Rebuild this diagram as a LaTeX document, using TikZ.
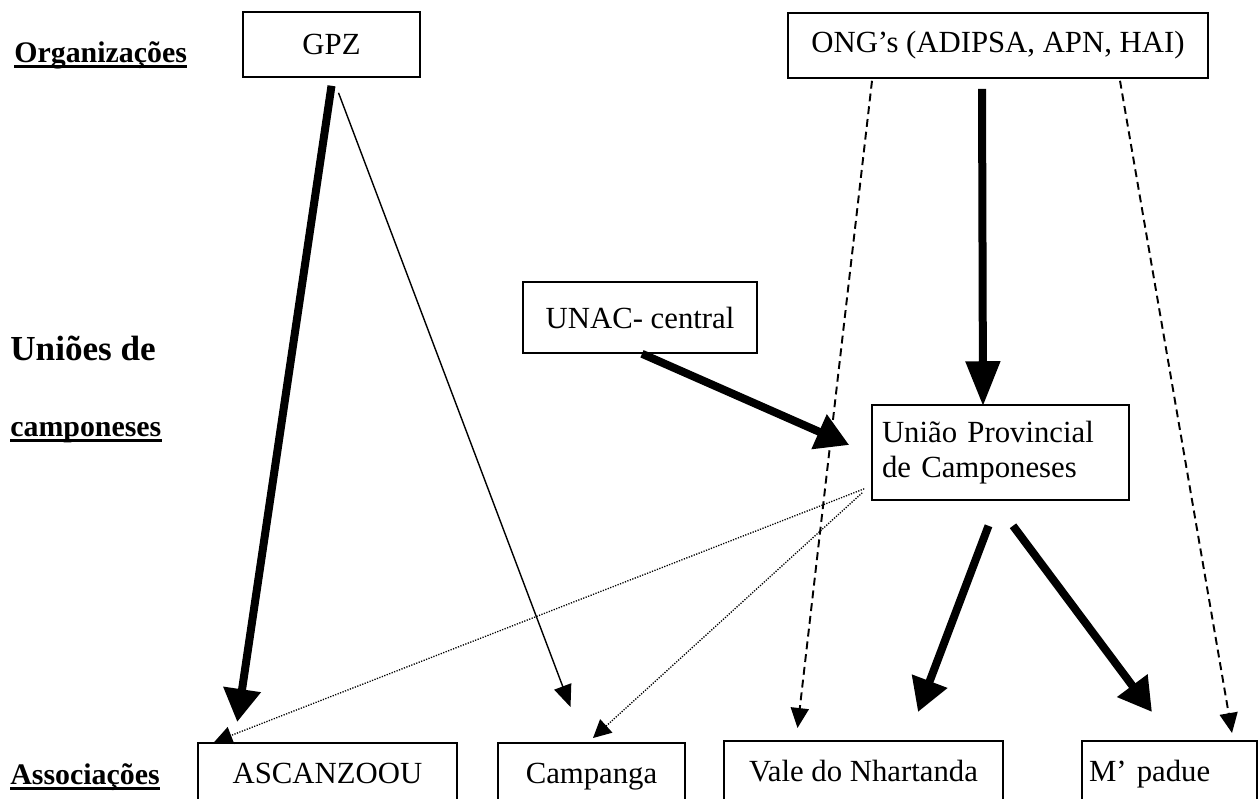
\documentclass[tikz,border=0pt]{standalone}
\usepackage{fontspec}
\setmainfont{Liberation Serif}
\usetikzlibrary{arrows.meta,calc}

\tikzset{
  box/.style={draw, line width=0.9pt, inner sep=0pt, align=center, font=\fontsize{17.5}{20}\selectfont},
  assoc/.style={box, anchor=north, text height=0.74cm, text depth=1.5cm, inner ysep=0.08cm},
  lbl/.style={inner sep=0pt, anchor=base west, font=\bfseries\fontsize{17}{20}\selectfont},
  uline/.style={line width=1.3pt},
  strong/.style={line width=0.16cm, -{Triangle[length=0.66cm,width=0.72cm]}},
  weak/.style={line width=0.8pt, -{Triangle[length=0.44cm,width=0.36cm]}},
  dashline/.style={line width=1.1pt, dash pattern=on 4.5pt off 2.8pt, -{Triangle[length=0.4cm,width=0.36cm]}},
  dotline/.style={line width=0.75pt, dash pattern=on 0.7pt off 0.8pt, -{Triangle[length=0.36cm,width=0.36cm]}}
}

\begin{document}
\frenchspacing
\begin{tikzpicture}[x=0.02cm, y=-0.02cm]
  \useasboundingbox (0,0) rectangle (1260,798);

  % row labels
  \node[lbl] (org) at (14,62) {Organizações};
  \node[lbl, font=\bfseries\fontsize{20}{24}\selectfont] (uni) at (10,360) {Uniões de};
  \node[lbl] (camp-lbl) at (10,436) {camponeses};
  \node[lbl] (ass) at (10,784) {Associações};
  \foreach \l in {org,camp-lbl,ass}{\draw[uline] ([yshift=-2.5pt]\l.base west) -- ([yshift=-2.5pt]\l.base east);}

  % organisations
  \node[box, minimum width=3.54cm, minimum height=1.3cm] (gpz) at (331.5,44.5) {GPZ};
  \node[box, minimum width=8.4cm, minimum height=1.3cm] (ong) at (998,45.5) {ONG’s (ADIPSA, APN, HAI)};

  % unions
  \node[box, minimum width=4.68cm, minimum height=1.42cm] (unac) at (640,317.5) {UNAC- central};
  \node[box, text width=4.74cm, align=left, inner xsep=0.2cm, minimum height=1.9cm] (uniao) at (1000.5,452.5) {União Provincial\\de Camponeses};

  % associations
  \node[assoc, minimum width=5.18cm] (asc) at (327.5,742) {ASCANZOOU};
  \node[assoc, minimum width=3.74cm] (camp) at (591.5,742) {Campanga};
  \node[assoc, minimum width=5.58cm] (vale) at (863.5,740) {Vale do Nhartanda};
  \node[assoc, text width=3.22cm, align=left, inner xsep=0.14cm] (mpad) at (1169.5,740) {M’ padue};

  % links
  \draw[strong] ($(gpz.south)+(0,8)$) -- ($(asc.north west)+(40,-20)$);
  \draw[weak] ($(gpz.south)+(7,15)$) -- ($(camp.north)+(-21,-35)$);
  \draw[strong, -{Triangle[length=0.9cm,width=0.66cm]}] ($(ong.south)+(-16,10)$) -- ($(uniao.north)+(-17.5,2)$);
  \draw[strong] ($(unac.south)+(2,0)$) -- ($(uniao.west)+(-22,-7.5)$);
  \draw[strong] ($(uniao.south)+(-12,25)$) -- ($(vale.north)+(54.5,-28)$);
  \draw[strong] ($(uniao.south)+(12.5,25)$) -- ($(mpad.north)+(-17.5,-28)$);
  \draw[dashline] ($(ong.south)+(-126,2)$) -- ($(vale.north)+(-66,-12)$);
  \draw[dashline] ($(ong.south)+(122,2)$) -- ($(mpad.north)+(62.5,-7)$);
  \draw[dotline] ($(uniao.south west)+(-7,-12)$) -- ($(asc.north west)+(17,0)$);
  \draw[dotline] ($(uniao.south west)+(-9,-8)$) -- ($(camp.north)+(1.5,-4)$);
\end{tikzpicture}
\end{document}
